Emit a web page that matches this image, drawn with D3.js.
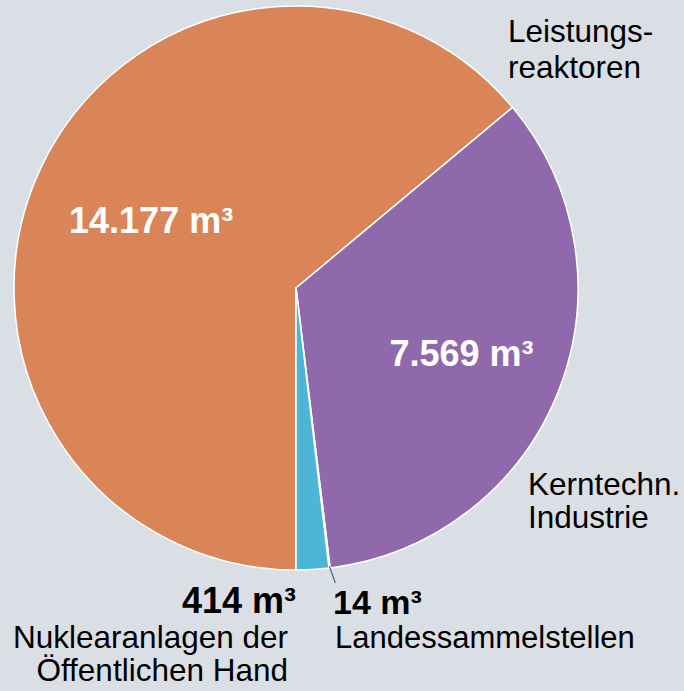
<!DOCTYPE html>
<html>
<head>
<meta charset="utf-8">
<script src="https://cdn.jsdelivr.net/npm/d3@7"></script>
<style>
	html, body { margin: 0; padding: 0; background: #dadfe5; }
	svg { display: block; font-family: "Liberation Sans", Arial, sans-serif; }
</style>
</head>
<body>
<div id="chart"></div>
<script>
// data
var categories = ['Leistungsreaktoren', 'Kerntechn. Industrie', 'Landessammelstellen', 'Nuklearanlagen der Öffentlichen Hand'];
var volumes = [14177, 7569, 14, 414];
var valueLabels = ['14.177 m³', '7.569 m³', '14 m³', '414 m³'];
var nameLines = [['Leistungs-', 'reaktoren'], ['Kerntechn.', 'Industrie'], ['Landessammelstellen'], ['Nuklearanlagen der', 'Öffentlichen Hand']];
var colors = ['#d98558', '#9069ad', '#5a7f99', '#4db6d7'];

var fullWidth = 684;
var fullHeight = 691;
var cx = 296, cy = 288, radius = 282;

var svg = d3.select('#chart')
	.append('svg')
	.attr('width', fullWidth)
	.attr('height', fullHeight);

svg.append('rect')
	.attr('width', fullWidth)
	.attr('height', fullHeight)
	.attr('fill', '#dadfe5');

var pie = d3.pie()
	.sort(null)
	.startAngle(Math.PI)
	.endAngle(3 * Math.PI)
	.value(function(d) { return d; });

var arc = d3.arc().innerRadius(0).outerRadius(radius);
var arcs = pie(volumes);

var chartArea = svg.append('g')
	.attr('transform', 'translate(' + cx + ',' + cy + ')');

chartArea.selectAll('path.slice')
	.data(arcs)
	.enter()
	.append('path')
	.attr('class', 'slice')
	.attr('d', arc)
	.attr('fill', function(d, i) { return colors[i]; })
	.attr('stroke', '#ffffff')
	.attr('stroke-width', 1.5)
	.attr('stroke-linejoin', 'round');

// values inside the two big slices
var insideRadius = [160, 178];
[0, 1].forEach(function(i) {
	var a = (arcs[i].startAngle + arcs[i].endAngle) / 2;
	var r = insideRadius[i];
	chartArea.append('text')
		.attr('x', Math.sin(a) * r)
		.attr('y', -Math.cos(a) * r)
		.attr('dy', '0.35em')
		.attr('text-anchor', 'middle')
		.attr('fill', '#ffffff')
		.attr('font-weight', 'bold')
		.attr('font-size', 36)
		.text(valueLabels[i]);
});

// leader line for the tiny slice
var tiny = arcs[2];
var ta = (tiny.startAngle + tiny.endAngle) / 2;
chartArea.append('line')
	.attr('x1', Math.sin(ta) * (radius - 2))
	.attr('y1', -Math.cos(ta) * (radius - 2))
	.attr('x2', Math.sin(ta) * (radius - 2) + 6)
	.attr('y2', -Math.cos(ta) * (radius - 2) + 17)
	.attr('stroke', '#3d6e8e')
	.attr('stroke-width', 1.2);

// outside labels
function lines(g, arr, x, y, anchor, size, weight, step) {
	arr.forEach(function(t, k) {
		g.append('text')
			.attr('x', x)
			.attr('y', y + k * step)
			.attr('text-anchor', anchor)
			.attr('font-size', size)
			.attr('font-weight', weight)
			.attr('fill', '#000000')
			.text(t);
	});
}

lines(svg, nameLines[0], 508, 42, 'start', 31.5, 'normal', 36);
lines(svg, nameLines[1], 528, 495, 'start', 31.5, 'normal', 33);
lines(svg, [valueLabels[2]], 333, 614, 'start', 34, 'bold', 0);
lines(svg, nameLines[2], 335, 648, 'start', 31, 'normal', 0);
lines(svg, [valueLabels[3]], 296, 613, 'end', 36, 'bold', 0);
lines(svg, nameLines[3], 288, 648, 'end', 31.5, 'normal', 33);
</script>
</body>
</html>
